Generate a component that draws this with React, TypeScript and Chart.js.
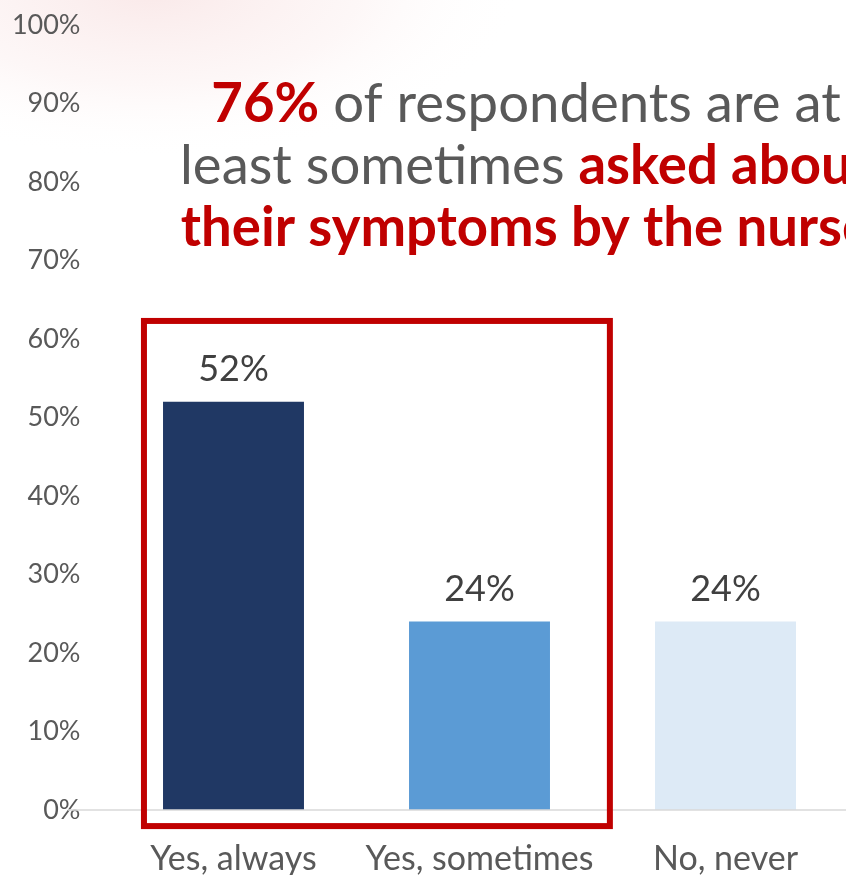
import React, { useEffect, useRef } from "react";
import { Chart, registerables } from "chart.js";

Chart.register(...registerables);

const categories = ["Yes, always", "Yes, sometimes", "No, never"];
const values = [52, 24, 24];
const valueLabels = ["52%", "24%", "24%"];
const yTicks = [0, 10, 20, 30, 40, 50, 60, 70, 80, 90, 100];
const titleLines: { text: string; bold: boolean }[][] = [
  [
    { text: "76%", bold: true },
    { text: " of respondents are at", bold: false },
  ],
  [
    { text: "least sometimes ", bold: false },
    { text: "asked about", bold: true },
  ],
  [{ text: "their symptoms by the nurse", bold: true }],
];

const barColors = ["#203864", "#5B9BD5", "#DDEAF6"];
const RED = "#C00000";
const GREY = "#595959";
const FONT = "Lato";

const decorPlugin = {
  id: "decor",
  beforeDraw(chart: any) {
    const { ctx, width, height } = chart;
    ctx.save();
    ctx.fillStyle = "#ffffff";
    ctx.fillRect(0, 0, width, height);
    ctx.translate(150, -10);
    ctx.scale(2.2, 1);
    const g = ctx.createRadialGradient(0, 0, 5, 0, 0, 170);
    g.addColorStop(0, "rgba(238,185,185,0.30)");
    g.addColorStop(0.55, "rgba(242,200,200,0.14)");
    g.addColorStop(1, "rgba(255,255,255,0)");
    ctx.fillStyle = g;
    ctx.fillRect(-200, -50, 400, 300);
    ctx.restore();
  },
  afterDatasetsDraw(chart: any) {
    const { ctx } = chart;
    const xs = chart.scales.x;
    const ys = chart.scales.y;
    ctx.save();
    // baseline
    ctx.strokeStyle = "#D9D9D9";
    ctx.lineWidth = 1.5;
    ctx.beginPath();
    const y0 = ys.getPixelForValue(0);
    ctx.moveTo(68, y0);
    ctx.lineTo(chart.width, y0);
    ctx.stroke();

    // value labels
    const meta = chart.getDatasetMeta(0);
    ctx.fillStyle = "#404040";
    ctx.font = `36px ${FONT}`;
    ctx.textAlign = "center";
    ctx.textBaseline = "alphabetic";
    meta.data.forEach((bar: any, i: number) => {
      ctx.fillText(valueLabels[i], bar.x, bar.y - 21);
    });

    // red highlight box
    const step = xs.getPixelForValue(1) - xs.getPixelForValue(0);
    const left = xs.getPixelForValue(0) - 0.364 * step;
    const right = xs.getPixelForValue(1) + 0.53 * step;
    const top = ys.getPixelForValue(62.3);
    const bottom = ys.getPixelForValue(-2.05);
    ctx.strokeStyle = RED;
    ctx.lineWidth = 6;
    ctx.strokeRect(left, top, right - left, bottom - top);

    // title
    const size = 54.5;
    const lineH = 62;
    const widthOf = (line: { text: string; bold: boolean }[]) =>
      line.reduce((s, seg) => {
        ctx.font = `${seg.bold ? "bold " : ""}${size}px ${FONT}`;
        return s + ctx.measureText(seg.text).width;
      }, 0);
    const w2 = widthOf(titleLines[1]);
    const cx = 180 + w2 / 2;
    ctx.textAlign = "left";
    titleLines.forEach((line, li) => {
      const w = widthOf(line);
      let x = cx - w / 2;
      const y = 122 + li * lineH;
      line.forEach((seg) => {
        ctx.font = `${seg.bold ? "bold " : ""}${size}px ${FONT}`;
        ctx.fillStyle = seg.bold ? RED : GREY;
        ctx.fillText(seg.text, x, y);
        x += ctx.measureText(seg.text).width;
      });
    });
    ctx.restore();
  },
};

export default function App() {
  const ref = useRef<HTMLCanvasElement>(null);
  useEffect(() => {
    if (!ref.current) return;
    const chart = new Chart(ref.current, {
      type: "bar",
      data: {
        labels: categories,
        datasets: [
          {
            data: values,
            backgroundColor: barColors,
            barPercentage: 0.573,
            categoryPercentage: 1,
          },
        ],
      },
      options: {
        animation: false,
        responsive: false,
        plugins: { legend: { display: false }, tooltip: { enabled: false } },
        layout: { padding: { left: 0, right: 11.5, top: 25, bottom: 0 } },
        scales: {
          x: {
            grid: { display: false, drawTicks: false },
            border: { display: false },
            ticks: {
              color: GREY,
              font: { family: FONT, size: 34 },
              padding: 29,
              maxRotation: 0,
              autoSkip: false,
            },
            afterFit: (s: any) => {
              s.height = 65;
              s.paddingLeft = 0;
              s.paddingRight = 0;
            },
          },
          y: {
            min: 0,
            max: 100,
            afterBuildTicks: (s: any) => {
              s.ticks = yTicks.map((v) => ({ value: v }));
            },
            grid: { display: false, drawTicks: false },
            border: { display: false },
            ticks: {
              color: GREY,
              font: { family: FONT, size: 27 },
              padding: 30,
              callback: (v: any) => `${v}%`,
            },
            afterFit: (s: any) => {
              s.width = 110.5;
              s.paddingTop = 0;
              s.paddingBottom = 0;
            },
          },
        },
      },
      plugins: [decorPlugin],
    });
    return () => chart.destroy();
  }, []);
  return (
    <div
      style={{
        position: "fixed",
        left: 0,
        top: 0,
        width: 846,
        height: 875,
        overflow: "hidden",
        background: "#fff",
      }}
    >
      <canvas ref={ref} width={860} height={875} style={{ display: "block" }} />
    </div>
  );
}
